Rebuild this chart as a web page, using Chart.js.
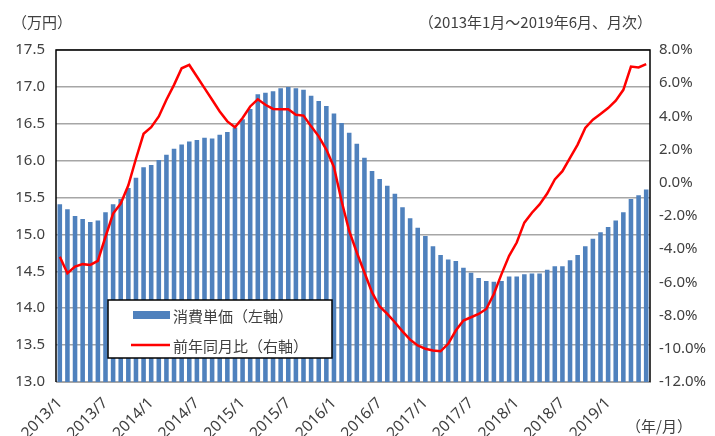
<!DOCTYPE html>
<html>
<head>
<meta charset="utf-8">
<script src="https://cdn.jsdelivr.net/npm/chart.js@4/dist/chart.umd.min.js"></script>
<style>
  html, body { margin: 0; padding: 0; background: #fff; }
  #wrap { position: relative; width: 715px; height: 436px; }
</style>
</head>
<body>
<div id="wrap"><canvas id="priceChart" width="715" height="436"></canvas></div>
<script>
"use strict"

// months 2013/1 .. 2019/6
const months = [
    "2013/1", "2013/2", "2013/3", "2013/4", "2013/5", "2013/6", "2013/7", "2013/8", "2013/9", "2013/10", "2013/11", "2013/12",
    "2014/1", "2014/2", "2014/3", "2014/4", "2014/5", "2014/6", "2014/7", "2014/8", "2014/9", "2014/10", "2014/11", "2014/12",
    "2015/1", "2015/2", "2015/3", "2015/4", "2015/5", "2015/6", "2015/7", "2015/8", "2015/9", "2015/10", "2015/11", "2015/12",
    "2016/1", "2016/2", "2016/3", "2016/4", "2016/5", "2016/6", "2016/7", "2016/8", "2016/9", "2016/10", "2016/11", "2016/12",
    "2017/1", "2017/2", "2017/3", "2017/4", "2017/5", "2017/6", "2017/7", "2017/8", "2017/9", "2017/10", "2017/11", "2017/12",
    "2018/1", "2018/2", "2018/3", "2018/4", "2018/5", "2018/6", "2018/7", "2018/8", "2018/9", "2018/10", "2018/11", "2018/12",
    "2019/1", "2019/2", "2019/3", "2019/4", "2019/5", "2019/6"
]

// 消費単価 [万円] (left axis)
const unitPrice = [
    15.41, 15.34, 15.25, 15.21, 15.17, 15.19, 15.30, 15.41, 15.48, 15.63, 15.77, 15.91,
    15.94, 16.01, 16.08, 16.16, 16.22, 16.26, 16.28, 16.31, 16.30, 16.35, 16.39, 16.45,
    16.56, 16.70, 16.90, 16.92, 16.94, 16.98, 17.00, 16.98, 16.96, 16.88, 16.81, 16.74,
    16.64, 16.51, 16.38, 16.23, 16.04, 15.86, 15.75, 15.66, 15.55, 15.37, 15.22, 15.09,
    14.98, 14.84, 14.72, 14.66, 14.64, 14.55, 14.48, 14.41, 14.37, 14.36, 14.37, 14.43,
    14.43, 14.46, 14.47, 14.47, 14.52, 14.57, 14.57, 14.65, 14.72, 14.84, 14.94, 15.03,
    15.10, 15.19, 15.30, 15.48, 15.53, 15.61
]

// 前年同月比 [%] (right axis)
const yoyChange = [
    -4.45, -5.45, -5.05, -4.9, -4.95, -4.7, -3.25, -1.85, -1.25, -0.15, 1.45, 2.95,
    3.35, 4.0, 5.0, 5.9, 6.9, 7.1, 6.4, 5.7, 5.0, 4.3, 3.7, 3.35,
    3.9, 4.6, 5.03, 4.7, 4.45, 4.43, 4.43, 4.1, 4.05, 3.4, 2.8, 2.0,
    0.95, -1.1, -2.9, -4.2, -5.4, -6.6, -7.45, -7.9, -8.4, -8.95, -9.45, -9.8,
    -10.0, -10.1, -10.15, -9.7, -8.9, -8.3, -8.1, -7.9, -7.6, -6.7, -5.5, -4.4,
    -3.6, -2.4, -1.8, -1.3, -0.65, 0.2, 0.7, 1.5, 2.3, 3.3, 3.8, 4.15,
    4.5, 4.95, 5.6, 7.0, 6.95, 7.15
]

const seriesNames = ["消費単価（左軸）", "前年同月比（右軸）"]
const unitLabel = "（万円）"
const periodLabel = "（2013年1月～2019年6月、月次）"
const xAxisLabel = "（年/月）"

const textColor = "#404040"
const fontFamily = '"Noto Sans", "Noto Sans CJK JP", sans-serif'
const jpFont = '"Noto Sans CJK JP", "Noto Sans", sans-serif'

// frame around the plot, the captions and the legend box
const decorations = {
    id: "decorations",
    afterDraw(chart) {
        const ctx = chart.ctx
        const a = chart.chartArea
        ctx.save()
        ctx.strokeStyle = "#000"
        ctx.lineWidth = 1.5
        ctx.beginPath()
        ctx.moveTo(a.left, a.bottom)
        ctx.lineTo(a.left, a.top)
        ctx.lineTo(a.right, a.top)
        ctx.lineTo(a.right, a.bottom)
        ctx.stroke()

        ctx.fillStyle = textColor
        ctx.font = "15px " + jpFont
        ctx.textBaseline = "middle"
        ctx.textAlign = "left"
        ctx.fillText(unitLabel, 12, 22)
        ctx.textAlign = "right"
        ctx.fillText(periodLabel, 652, 22)
        ctx.fillText(xAxisLabel, 692, 426)

        // legend
        ctx.fillStyle = "#fff"
        ctx.fillRect(108, 300, 224, 58)
        ctx.strokeStyle = "#000"
        ctx.lineWidth = 1.5
        ctx.strokeRect(108, 300, 224, 58)
        ctx.fillStyle = chart.data.datasets[1].backgroundColor
        ctx.fillRect(133, 311, 37, 8)
        ctx.strokeStyle = chart.data.datasets[0].borderColor
        ctx.lineWidth = 2.5
        ctx.beginPath()
        ctx.moveTo(131, 345)
        ctx.lineTo(170, 345)
        ctx.stroke()
        ctx.fillStyle = textColor
        ctx.textAlign = "left"
        ctx.font = "15px " + jpFont
        ctx.fillText(seriesNames[0], 173, 316)
        ctx.fillText(seriesNames[1], 173, 346)
        ctx.restore()
    }
}

const ctx = document.getElementById("priceChart")
const myChart = new Chart(ctx, {
    data: {
        labels: months,
        datasets: [
            {
                type: "line",
                label: seriesNames[1],
                data: yoyChange,
                yAxisID: "y1",
                borderColor: "#ff0000",
                backgroundColor: "#ff0000",
                borderWidth: 2.5,
                pointRadius: 0,
                tension: 0,
                order: 0
            },
            {
                type: "bar",
                label: seriesNames[0],
                data: unitPrice,
                yAxisID: "y",
                backgroundColor: "#4f81bd",
                barPercentage: 0.6,
                categoryPercentage: 1.0,
                order: 1
            }
        ]
    },
    options: {
        responsive: false,
        animation: false,
        layout: { padding: { top: 50, left: 0, right: 0, bottom: 0 } },
        plugins: {
            legend: { display: false },
            tooltip: { enabled: false }
        },
        scales: {
            x: {
                grid: { display: false },
                border: { display: true, color: "#a6a6a6", width: 1 },
                ticks: {
                    autoSkip: false,
                    minRotation: 45,
                    maxRotation: 45,
                    padding: 4,
                    color: textColor,
                    font: { family: fontFamily, size: 15.5 },
                    callback: function (value, index) {
                        return index % 6 === 0 ? months[index] : ""
                    }
                },
                afterFit: function (scale) { scale.height = 54 }
            },
            y: {
                position: "left",
                min: 13,
                max: 17.5,
                grid: { color: "#a6a6a6", lineWidth: 1.5, drawTicks: false },
                border: { display: false },
                ticks: {
                    stepSize: 0.5,
                    padding: 11,
                    color: textColor,
                    font: { family: fontFamily, size: 15 },
                    callback: function (v) { return v.toFixed(1) }
                },
                afterFit: function (scale) { scale.width = 56 }
            },
            y1: {
                position: "right",
                min: -12,
                max: 8,
                grid: { display: false, drawTicks: false },
                border: { display: false },
                ticks: {
                    stepSize: 2,
                    padding: 9,
                    color: textColor,
                    font: { family: fontFamily, size: 15 },
                    callback: function (v) { return v.toFixed(1) + "%" }
                },
                afterFit: function (scale) { scale.width = 65 }
            }
        }
    },
    plugins: [decorations]
})
</script>
</body>
</html>
